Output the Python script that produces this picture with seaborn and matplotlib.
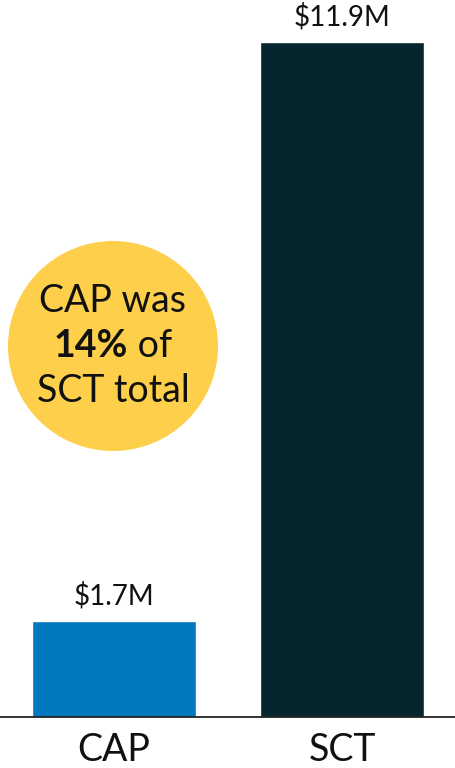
import matplotlib
matplotlib.use("Agg")
import matplotlib.pyplot as plt
import seaborn as sns
import pandas as pd
from matplotlib.patches import Circle

categories = ["CAP", "SCT"]
values = [1.7, 11.9]
value_labels = ["$1.7M", "$11.9M"]
bar_colors = ["#0077BE", "#05262D"]
callout_lines = ["CAP was", "14%", " of", "SCT total"]

sns.set_theme(style="white")
plt.rcParams["font.family"] = ["Lato", "DejaVu Sans"]

df = pd.DataFrame({"cat": categories, "val": values})

W, H, DPI = 456, 768, 100
fig = plt.figure(figsize=(W / DPI, H / DPI), dpi=DPI)
base_px = 717
ax = fig.add_axes([0, (H - base_px) / H, 1, base_px / H])

sns.barplot(data=df, x="cat", y="val", hue="cat", palette=bar_colors,
            width=0.72, saturation=1, legend=False, ax=ax)

scale = (717 - 42) / values[1]  # px per unit
ax.set_ylim(0, base_px / scale)
ax.set_xlim(-0.5, 1.5)

for i, (v, lab) in enumerate(zip(values, value_labels)):
    ax.annotate(lab, (i, v), xytext=(0, 8), textcoords="offset points",
                ha="center", va="bottom", fontsize=20, color="#111111")

for s in ["top", "right", "left"]:
    ax.spines[s].set_visible(False)
ax.spines["bottom"].set_color("#222222")
ax.spines["bottom"].set_linewidth(1.3)
ax.set_yticks([])
ax.set_xlabel("")
ax.set_ylabel("")
ax.tick_params(axis="x", length=0, pad=11, labelsize=27, labelcolor="#111111")

# callout circle (inches in figure)
cx, cy, r = 1.13, (H - 346) / DPI, 1.05
circ = Circle((cx, cy), r, transform=fig.dpi_scale_trans, facecolor="#FDCF4B",
              edgecolor="none", zorder=5)
fig.patches.append(circ)
lh = 0.45
fs = 27
fig.text(cx, cy + lh, callout_lines[0], transform=fig.dpi_scale_trans,
         ha="center", va="center", fontsize=fs, color="#111111", zorder=6)
t1 = fig.text(cx, cy, callout_lines[1], transform=fig.dpi_scale_trans,
              ha="left", va="center", fontsize=fs, fontweight="bold",
              color="#111111", zorder=6)
t2 = fig.text(cx, cy, callout_lines[2], transform=fig.dpi_scale_trans,
              ha="left", va="center", fontsize=fs, color="#111111", zorder=6)
fig.text(cx, cy - lh, callout_lines[3], transform=fig.dpi_scale_trans,
         ha="center", va="center", fontsize=fs, color="#111111", zorder=6)

fig.canvas.draw()
rend = fig.canvas.get_renderer()
w1 = t1.get_window_extent(rend).width / DPI
w2 = t2.get_window_extent(rend).width / DPI
start = cx - (w1 + w2) / 2
t1.set_position((start, cy))
t2.set_position((start + w1, cy))

fig.savefig("out.png", dpi=DPI)
